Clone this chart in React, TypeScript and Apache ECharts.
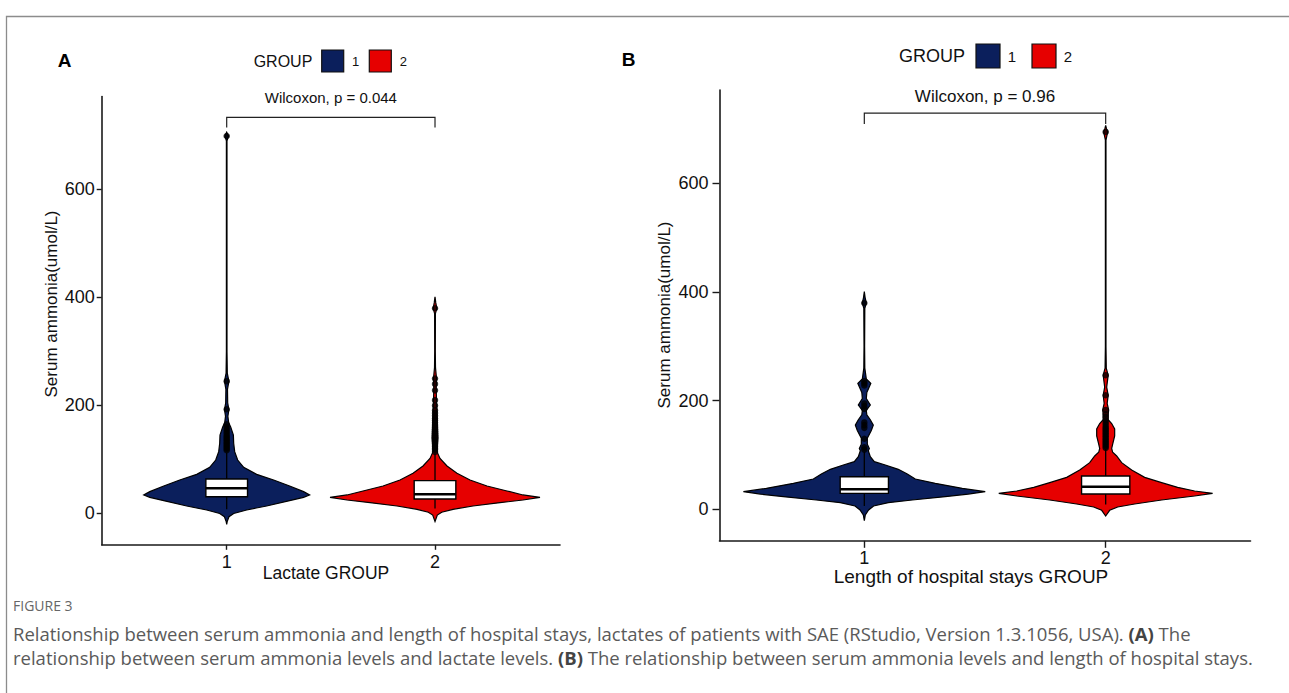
import React, { useEffect, useRef } from "react";
import * as echarts from "echarts";

// ---------- data ----------
const categories = ["1", "2"];
const yTickValues = [0, 200, 400, 600];

// Panel A (Lactate GROUP) violin profiles: value -> relative density width
const lactateG1Values = [-20, -15, -6, 0, 6.5, 13.9, 23.8, 29.9, 34.3, 40.4, 50.9, 62, 72.5, 85.5, 99, 114.5, 130, 145, 160, 168, 180, 192, 205, 230, 245, 260, 300, 690, 699, 706];
const lactateG1Widths = [0, 0.5, 2.3, 7, 20, 40, 63, 77, 83, 77, 63, 47, 30, 17, 11, 8, 7, 6.7, 4, 2, 1.2, 2.2, 1, 0.8, 2.2, 0.6, 0.3, 0.3, 1.8, 0];
const lactateG2Values = [-15, -3, 2.2, 7.7, 13.9, 20, 25, 29.9, 34.3, 41.7, 50.9, 62, 74.4, 88, 102, 113, 118, 140, 160, 185, 210, 230, 250, 270, 300, 370, 380, 390, 401];
const lactateG2Widths = [0, 2.3, 6.7, 18, 38, 65, 88, 105, 88, 72, 52, 35, 22, 12, 5, 2.3, 2, 3, 2.5, 2, 1.5, 1.2, 1.5, 0.5, 0.3, 0.4, 1.8, 0.8, 0];

// Panel B (Length of hospital stays GROUP)
const staysG1Values = [-21, -10.5, -1.3, 6.1, 12.2, 17.1, 23.3, 28, 32.4, 38.6, 47.8, 55.8, 65, 73.6, 81.6, 87.7, 97, 108, 112, 120, 131, 145, 155, 165, 174, 182, 192, 204, 215, 232, 240, 260, 300, 370, 380, 390, 401];
const staysG1Widths = [0, 1, 4.3, 9.3, 24, 48, 81, 104, 121, 98, 71, 51, 43, 34, 21, 10, 6, 4, 5, 3, 3, 7, 9, 6, 2.5, 2, 6, 2, 2.5, 6.5, 2, 0.5, 0.3, 0.5, 2, 0.8, 0];
const staysG2Values = [-12.3, -1.8, 4.3, 9.8, 17.1, 24.5, 29.4, 33.7, 40.5, 49.1, 58.9, 72.4, 85.9, 98.2, 105, 112, 120, 135, 148, 158, 165, 175, 183, 195, 210, 225, 247, 260, 300, 680, 695, 701, 707];
const staysG2Widths = [0, 4, 12, 29, 56, 89, 107, 89, 72, 56, 39, 26, 16, 11, 7, 6, 7, 9, 9, 6, 2.5, 2.5, 3, 1.5, 2.5, 1, 2.5, 0.6, 0.3, 0.3, 2, 0.8, 0];

// maximal violin half-width (in category units)
const lactateMaxHalf = [0.398, 0.504];
const staysMaxHalf = [0.501, 0.443];

// box stats: [lower whisker, Q1, median, Q3, upper whisker]
const lactateBox1 = [8, 31.1, 46.7, 63.9, 113];
const lactateBox2 = [9, 26.8, 35.5, 60.8, 111];
const staysBox1 = [6, 29.4, 36.8, 60, 106];
const staysBox2 = [9, 28.2, 41.6, 61.3, 111];

// outliers
const lactateOut1 = [117, 120, 123, 126, 129, 132, 135, 138, 141, 144, 148, 152, 156, 160, 165, 193, 245, 699];
const lactateOut2 = [114, 118, 121, 124, 127, 130, 133, 136, 140, 144, 148, 152, 156, 160, 164, 168, 172, 176, 181, 186, 191, 200, 210, 228, 240, 250, 380];
const staysOut1 = [110, 114, 130, 150, 155, 160, 185, 190, 195, 228, 232, 236, 380];
const staysOut2 = [113, 116, 119, 122, 125, 128, 131, 134, 137, 140, 143, 146, 149, 152, 156, 160, 164, 170, 175, 183, 210, 247, 695];

// significance brackets: [bar value, tick end value]
const lactateBracket = [733.7, 715];
const staysBracket = [729.6, 709.6];
const lactateLabel = "Wilcoxon, p = 0.044";
const staysLabel = "Wilcoxon, p = 0.96";

// ---------- styling ----------
const BLUE = "#0b1f5c";
const RED = "#e60000";
const FONT = "Liberation Sans, Arial, Helvetica, sans-serif";
const CAPFONT = "Open Sans, Noto Sans, sans-serif";

function violinSeries(ax: number, cx: number, vals: number[], widths: number[], maxHalf: number, color: string) {
  const maxW = Math.max(...widths);
  return {
    type: "custom",
    xAxisIndex: ax,
    yAxisIndex: ax,
    silent: true,
    z: 2,
    data: [[cx, vals[0]]],
    renderItem: (_p: any, api: any) => {
      const pts: number[][] = [];
      for (let i = 0; i < vals.length; i++) {
        pts.push(api.coord([cx + (widths[i] / maxW) * maxHalf, vals[i]]));
      }
      for (let i = vals.length - 1; i >= 0; i--) {
        pts.push(api.coord([cx - (widths[i] / maxW) * maxHalf, vals[i]]));
      }
      return {
        type: "polygon",
        shape: { points: pts },
        style: { fill: color, stroke: "#000", lineWidth: 1.2 },
      };
    },
  };
}

function boxSeries(ax: number, cx: number, box: number[]) {
  const half = 0.1;
  return {
    type: "custom",
    xAxisIndex: ax,
    yAxisIndex: ax,
    silent: true,
    z: 3,
    data: [[cx, box[2]]],
    renderItem: (_p: any, api: any) => {
      const lo = api.coord([cx, box[0]]);
      const hi = api.coord([cx, box[4]]);
      const tl = api.coord([cx - half, box[3]]);
      const br = api.coord([cx + half, box[1]]);
      const ml = api.coord([cx - half, box[2]]);
      const mr = api.coord([cx + half, box[2]]);
      return {
        type: "group",
        children: [
          { type: "line", shape: { x1: lo[0], y1: lo[1], x2: hi[0], y2: hi[1] }, style: { stroke: "#000", lineWidth: 1.3 } },
          { type: "rect", shape: { x: tl[0], y: tl[1], width: br[0] - tl[0], height: br[1] - tl[1] }, style: { fill: "#fff", stroke: "#000", lineWidth: 1.4 } },
          { type: "line", shape: { x1: ml[0], y1: ml[1], x2: mr[0], y2: mr[1] }, style: { stroke: "#000", lineWidth: 2.4 } },
        ],
      };
    },
  };
}

function outlierSeries(ax: number, cx: number, vals: number[]) {
  return {
    type: "scatter",
    xAxisIndex: ax,
    yAxisIndex: ax,
    silent: true,
    z: 4,
    symbol: "circle",
    symbolSize: 6.5,
    itemStyle: { color: "#000" },
    data: vals.map((v) => [cx, v]),
  };
}

function bracketSeries(ax: number, br: number[], label: string, fontSize: number, offset: number) {
  return {
    type: "custom",
    xAxisIndex: ax,
    yAxisIndex: ax,
    silent: true,
    clip: false,
    z: 5,
    data: [[1.5, br[0]]],
    renderItem: (_p: any, api: any) => {
      const a = api.coord([1, br[1]]);
      const b = api.coord([1, br[0]]);
      const c = api.coord([2, br[0]]);
      const d = api.coord([2, br[1]]);
      const m = api.coord([1.5, br[0]]);
      return {
        type: "group",
        children: [
          { type: "polyline", shape: { points: [a, b, c, d] }, style: { stroke: "#222", lineWidth: 1.2, fill: "none" } },
          {
            type: "text",
            x: m[0],
            y: m[1] - offset,
            style: { text: label, fontSize, fontFamily: FONT, fill: "#111", align: "center", verticalAlign: "middle" },
          },
        ],
      };
    },
  };
}

function xAxisCfg(grid: number, tickLen: number, margin: number) {
  return {
    type: "value",
    gridIndex: grid,
    min: 0.4,
    max: 2.6,
    splitLine: { show: false },
    axisLine: { show: true, onZero: false, lineStyle: { color: "#1a1a1a", width: 1.6 } },
    axisTick: { show: true, customValues: [1, 2], length: tickLen, lineStyle: { color: "#1a1a1a", width: 1.4 } },
    axisLabel: {
      customValues: [1, 2],
      formatter: (v: number) => categories[Math.round(v) - 1],
      fontSize: 18,
      fontFamily: FONT,
      color: "#111",
      margin,
    },
  };
}

function yAxisCfg(grid: number, tickLen: number, margin: number) {
  return {
    type: "value",
    gridIndex: grid,
    min: -58,
    max: 772,
    splitLine: { show: false },
    axisLine: { show: true, onZero: false, lineStyle: { color: "#1a1a1a", width: 1.6 } },
    axisTick: { show: true, customValues: yTickValues, length: tickLen, lineStyle: { color: "#1a1a1a", width: 1.4 } },
    axisLabel: { customValues: yTickValues, fontSize: 18, fontFamily: FONT, color: "#111", margin },
  };
}

function legend(xGroup: number, y: number, gSize: number, box: number, x1: number, x2: number, numSize: number) {
  return [
    { type: "text", x: xGroup, y, style: { text: "GROUP", fontSize: gSize, fontFamily: FONT, fill: "#111", align: "center", verticalAlign: "middle" } },
    { type: "rect", shape: { x: x1, y: y - box / 2, width: box, height: box }, style: { fill: BLUE, stroke: "#111", lineWidth: 1.2 } },
    { type: "text", x: x1 + box + 12, y, style: { text: categories[0], fontSize: numSize, fontFamily: FONT, fill: "#111", align: "center", verticalAlign: "middle" } },
    { type: "rect", shape: { x: x2, y: y - box / 2, width: box, height: box }, style: { fill: RED, stroke: "#111", lineWidth: 1.2 } },
    { type: "text", x: x2 + box + 12, y, style: { text: categories[1], fontSize: numSize, fontFamily: FONT, fill: "#111", align: "center", verticalAlign: "middle" } },
  ];
}

const caption1 = "Relationship between serum ammonia and length of hospital stays, lactates of patients with SAE (RStudio, Version 1.3.1056, USA). {b|(A)} The";
const caption2 = "relationship between serum ammonia levels and lactate levels. {b|(B)} The relationship between serum ammonia levels and length of hospital stays.";

const option: any = {
  animation: false,
  backgroundColor: "#fff",
  grid: [
    { left: 101.7, top: 96.6, width: 458.3, height: 448.2, containLabel: false },
    { left: 719.5, top: 90.1, width: 531, height: 450.7, containLabel: false },
  ],
  xAxis: [xAxisCfg(0, 5, 8), xAxisCfg(1, 7, 8)],
  yAxis: [yAxisCfg(0, 5, 7), yAxisCfg(1, 7, 11)],
  series: [
    violinSeries(0, 1, lactateG1Values, lactateG1Widths, lactateMaxHalf[0], BLUE),
    violinSeries(0, 2, lactateG2Values, lactateG2Widths, lactateMaxHalf[1], RED),
    boxSeries(0, 1, lactateBox1),
    boxSeries(0, 2, lactateBox2),
    outlierSeries(0, 1, lactateOut1),
    outlierSeries(0, 2, lactateOut2),
    bracketSeries(0, lactateBracket, lactateLabel, 15, 20),
    violinSeries(1, 1, staysG1Values, staysG1Widths, staysMaxHalf[0], BLUE),
    violinSeries(1, 2, staysG2Values, staysG2Widths, staysMaxHalf[1], RED),
    boxSeries(1, 1, staysBox1),
    boxSeries(1, 2, staysBox2),
    outlierSeries(1, 1, staysOut1),
    outlierSeries(1, 2, staysOut2),
    bracketSeries(1, staysBracket, staysLabel, 17, 17),
  ],
  graphic: [
    { type: "rect", silent: true, shape: { x: 6.5, y: 16.5, width: 1400, height: 800 }, style: { fill: "none", stroke: "#8c8c8c", lineWidth: 1.3 } },
    { type: "text", x: 64.5, y: 60, style: { text: "A", fontSize: 19, fontWeight: "bold", fontFamily: FONT, fill: "#000", align: "center", verticalAlign: "middle" } },
    { type: "text", x: 628.5, y: 59.6, style: { text: "B", fontSize: 19, fontWeight: "bold", fontFamily: FONT, fill: "#000", align: "center", verticalAlign: "middle" } },
    ...legend(283, 61, 16, 22, 321.7, 369.3, 13),
    ...legend(932, 56, 18, 24, 976, 1032, 15),
    { type: "text", x: 51, y: 304, rotation: Math.PI / 2, style: { text: "Serum ammonia(umol/L)", fontSize: 17, fontFamily: FONT, fill: "#111", align: "center", verticalAlign: "middle" } },
    { type: "text", x: 326, y: 573, style: { text: "Lactate GROUP", fontSize: 17.5, fontFamily: FONT, fill: "#111", align: "center", verticalAlign: "middle" } },
    { type: "text", x: 664, y: 315, rotation: Math.PI / 2, style: { text: "Serum ammonia(umol/L)", fontSize: 17, fontFamily: FONT, fill: "#111", align: "center", verticalAlign: "middle" } },
    { type: "text", x: 971, y: 576, style: { text: "Length of hospital stays GROUP", fontSize: 19, fontFamily: FONT, fill: "#111", align: "center", verticalAlign: "middle" } },
    { type: "text", x: 13, y: 605, style: { text: "FIGURE 3", fontSize: 14, fontFamily: CAPFONT, fill: "#666", align: "left", verticalAlign: "middle" } },
    {
      type: "text", x: 13, y: 633,
      style: { text: caption1, fontSize: 18.5, fontFamily: CAPFONT, fill: "#5a5a5a", align: "left", verticalAlign: "middle", rich: { b: { fontSize: 18.5, fontFamily: CAPFONT, fontWeight: "bold", fill: "#444" } } },
    },
    {
      type: "text", x: 13, y: 657,
      style: { text: caption2, fontSize: 18.5, fontFamily: CAPFONT, fill: "#5a5a5a", align: "left", verticalAlign: "middle", rich: { b: { fontSize: 18.5, fontFamily: CAPFONT, fontWeight: "bold", fill: "#444" } } },
    },
  ],
};

export default function App() {
  const ref = useRef<HTMLDivElement>(null);
  useEffect(() => {
    if (!ref.current) return;
    const chart = echarts.init(ref.current, null, { renderer: "svg" });
    chart.setOption(option);
    return () => chart.dispose();
  }, []);
  return <div ref={ref} style={{ position: "fixed", left: 0, top: 0, width: 1289, height: 693, background: "#fff" }} />;
}
